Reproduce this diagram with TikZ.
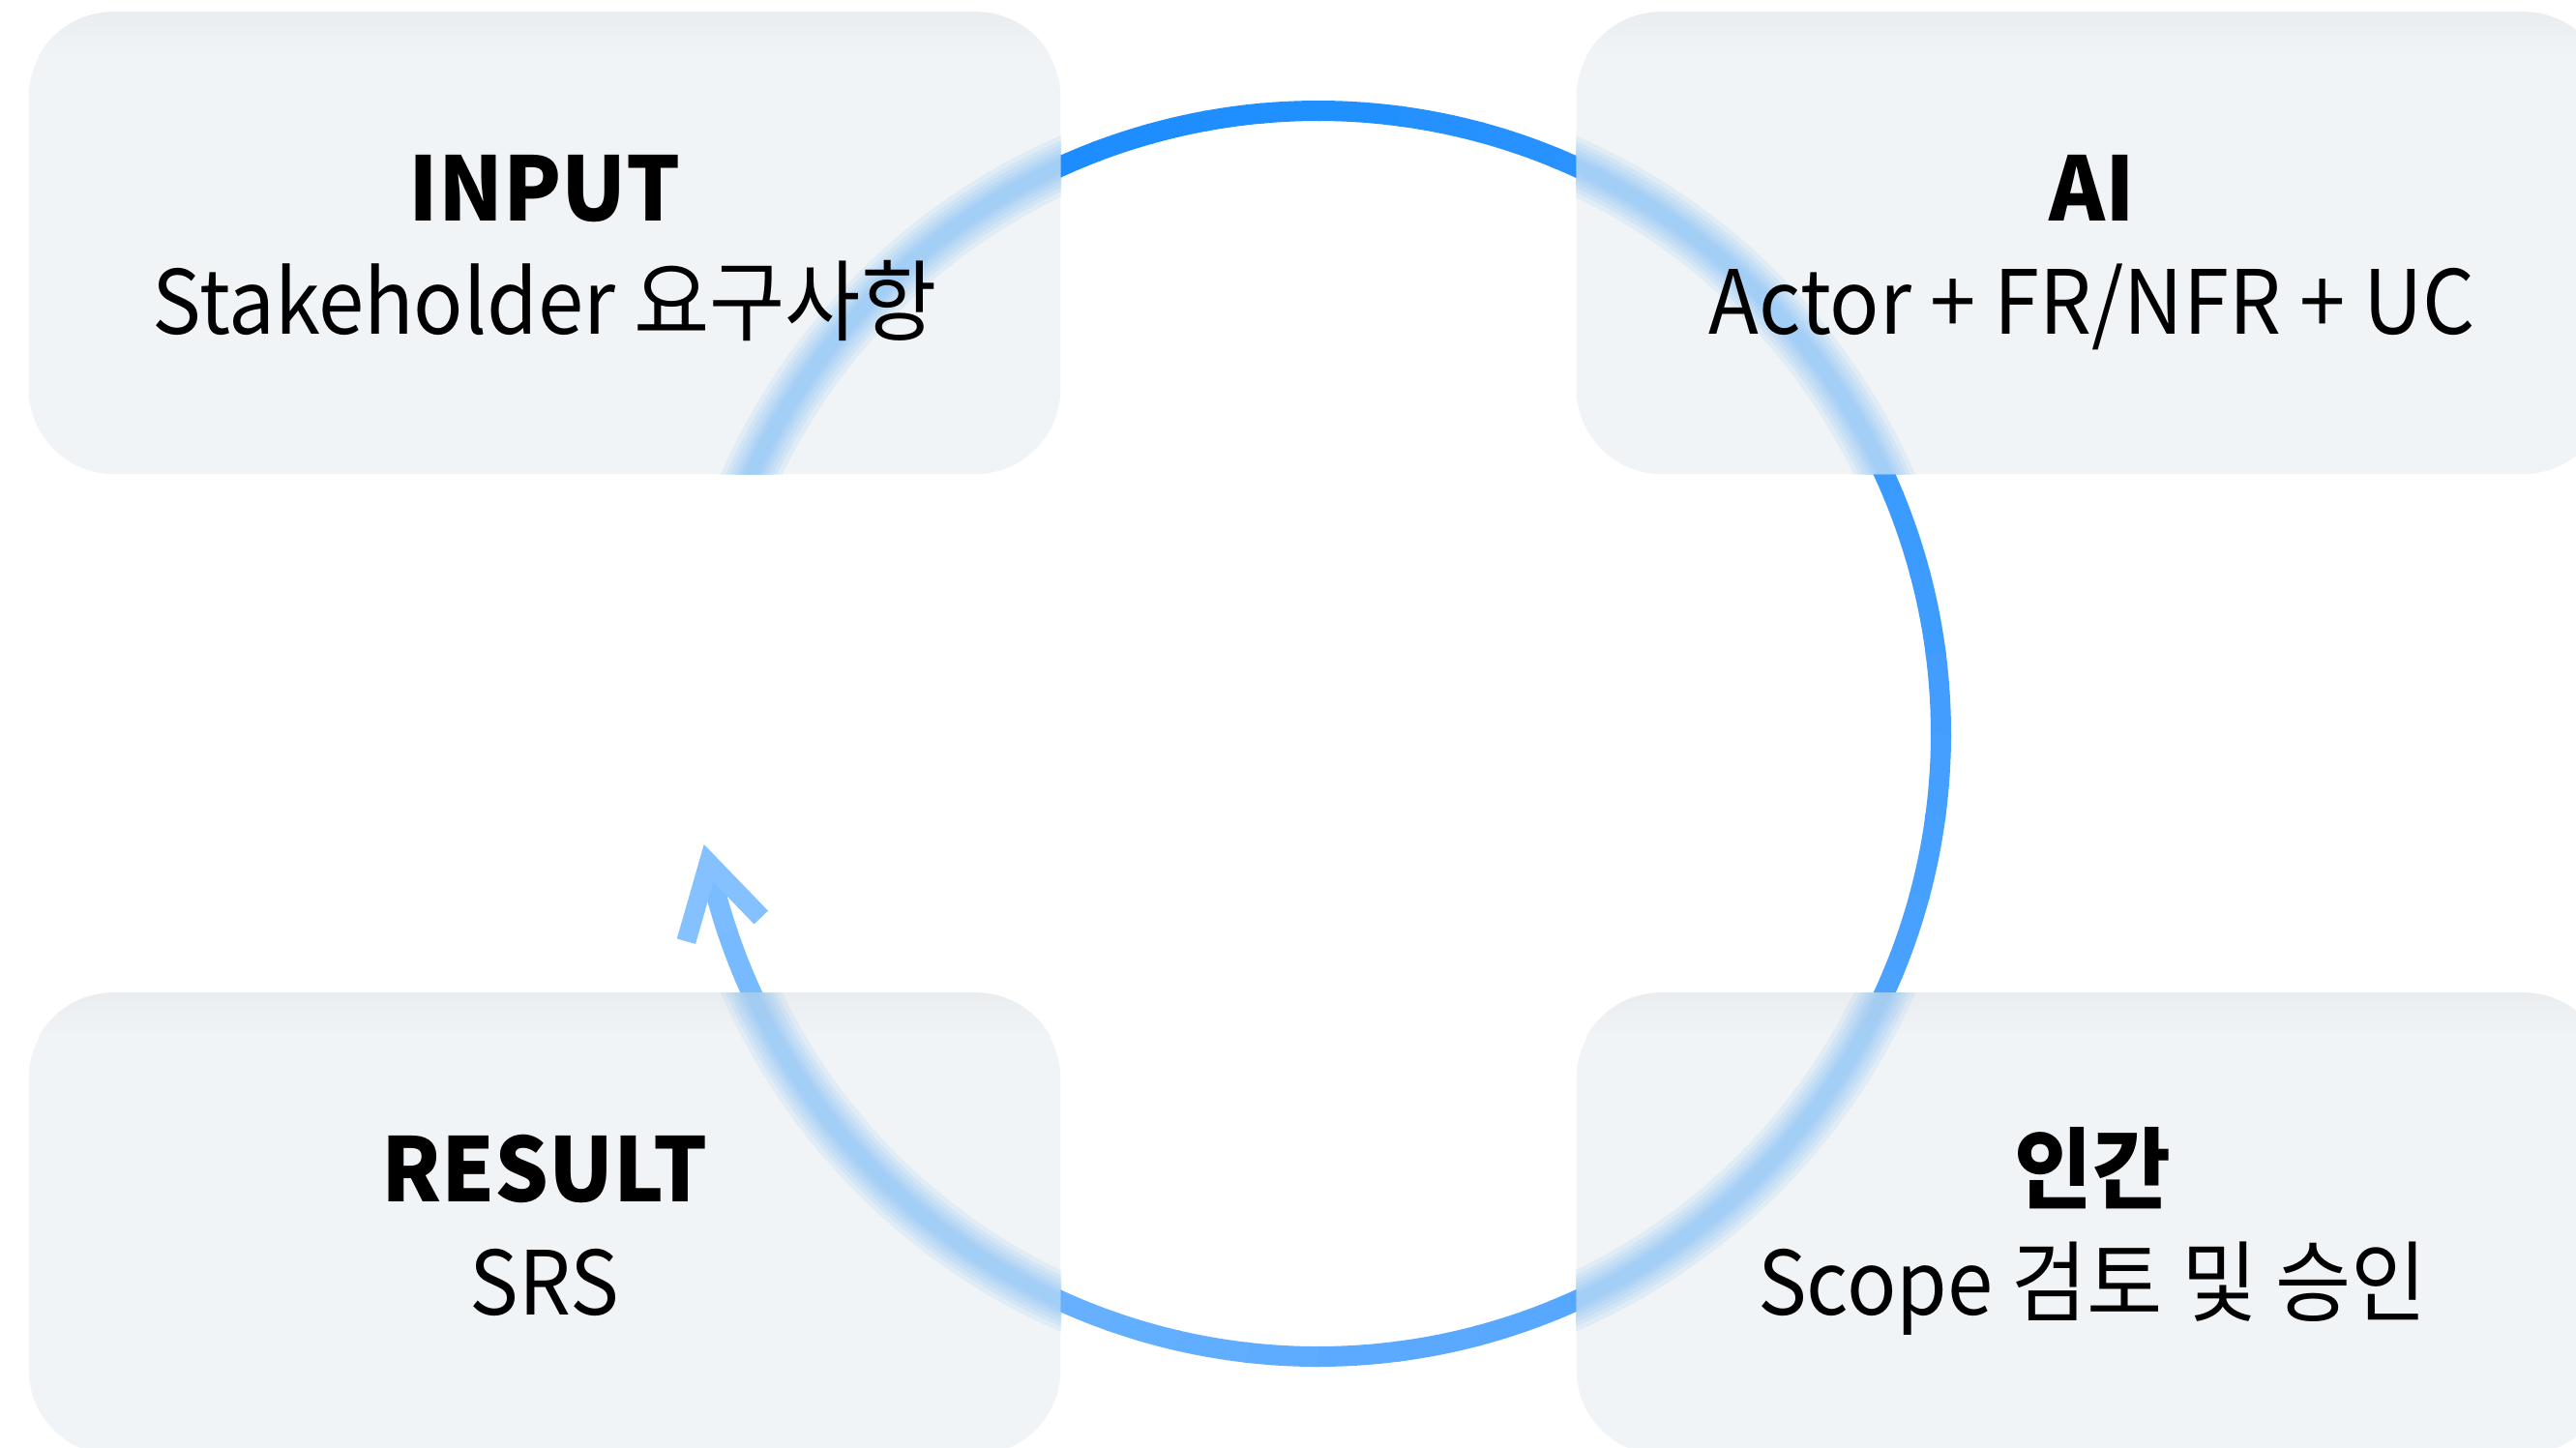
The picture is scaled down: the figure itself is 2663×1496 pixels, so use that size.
\documentclass[tikz,border=0pt]{standalone}
\usepackage{fontspec}
\newfontfamily\labelfont{Noto Sans CJK KR}[FakeStretch=0.93, BoldFeatures={FakeStretch=0.96}]
\usetikzlibrary{calc}

\definecolor{panelfill}{HTML}{F1F4F6}
\definecolor{paneltop}{HTML}{EAEDEF}
\definecolor{ringA}{HTML}{1888FF}
\definecolor{ringB}{HTML}{208FFF}
\definecolor{ringC}{HTML}{439EFF}
\definecolor{ringD}{HTML}{5DABFF}
\definecolor{ringE}{HTML}{7CBCFF}
\definecolor{tipcol}{HTML}{85C1FF}
\definecolor{haze}{HTML}{7FBDF5}

% one stretch of the cycle ring, coloured from #3 to #4 in 12 steps
\newcommand\ringpiece[4]{%
  \foreach \k in {0,...,11}{%
    \pgfmathsetmacro\aS{#1+(#2-#1)*\k/12}%
    \pgfmathsetmacro\aE{#1+(#2-#1)*(\k+1)/12+0.25}%
    \pgfmathsetmacro\mx{100*(\k+0.5)/12}%
    \draw[ring, draw={#4!\mx!#3}] (ctr) ++(\aS:644) arc[start angle=\aS, end angle=\aE, radius=644];
  }}

\begin{document}
\begin{tikzpicture}[x=0.01cm, y=-0.01cm,
  ring/.style={line width=0.21cm, line cap=butt},
  panel/.style={draw=none, fill=panelfill, rounded corners=0.88cm,
    minimum width=10.66cm, minimum height=4.77cm, inner sep=0pt},
  title/.style={anchor=base, inner sep=0pt, font=\labelfont\bfseries\fontsize{26pt}{30pt}\selectfont},
  subtitle/.style={anchor=base, inner sep=0pt, font=\labelfont\fontsize{26pt}{30pt}\selectfont}]

\clip (0,0) rectangle (2663,1496);
\fill[white] (0,0) rectangle (2663,1496);

\coordinate (ctr) at (1362.5,758.5);

% the cycle ring, darker blue at its start, lighter towards the arrow
\ringpiece{207}{270}{ringA}{ringB}
\ringpiece{270}{360}{ringB}{ringC}
\ringpiece{360}{450}{ringC}{ringD}
\ringpiece{450}{527.8}{ringD}{ringE}

% open arrow head closing the cycle
\coordinate (tipV) at ($(ctr)+(168:644)$);
\coordinate (barbL) at ($(tipV)+(106:84)$);
\coordinate (barbR) at ($(tipV)+(46:78)$);
\draw[line width=0.2cm, draw=tipcol, line join=miter, miter limit=10]
  (barbL) -- (tipV) -- (barbR);

% four frosted panels
\node[panel] (input)  at (563,251.5)  {};
\node[panel] (ai)     at (2163,251.5) {};
\node[panel] (result) at (563,1265.5) {};
\node[panel] (human)  at (2163,1265.5) {};

\foreach \p in {input,ai,result,human}{
  \begin{scope}
    \clip[rounded corners=0.88cm] (\p.north west) rectangle (\p.south east);
    \shade[top color=paneltop, bottom color=panelfill]
      (\p.north west) rectangle ($(\p.north east)+(0,45)$);
    % the ring seen blurred through the panel
    \foreach \w in {0.58,0.48,0.40,0.32,0.25,0.19,0.13}{
      \draw[draw=haze, line width=\w cm, opacity=0.14] (ctr) circle[radius=644];
    }
  \end{scope}
}

% labels
\node[title]    (inputT)  at (563,228)   {INPUT};
\node[subtitle] (inputS)  at (563,345)   {Stakeholder 요구사항};
\node[title]    (aiT)     at (2163,228)  {AI};
\node[subtitle] (aiS)     at (2163,345)  {Actor + FR/NFR + UC};
\node[title]    (resultT) at (563,1242)  {RESULT};
\node[subtitle] (resultS) at (563,1359)  {SRS};
\node[title]    (humanT)  at (2163,1242) {인간};
\node[subtitle] (humanS)  at (2163,1359) {Scope 검토 및 승인};

\end{tikzpicture}
\end{document}
